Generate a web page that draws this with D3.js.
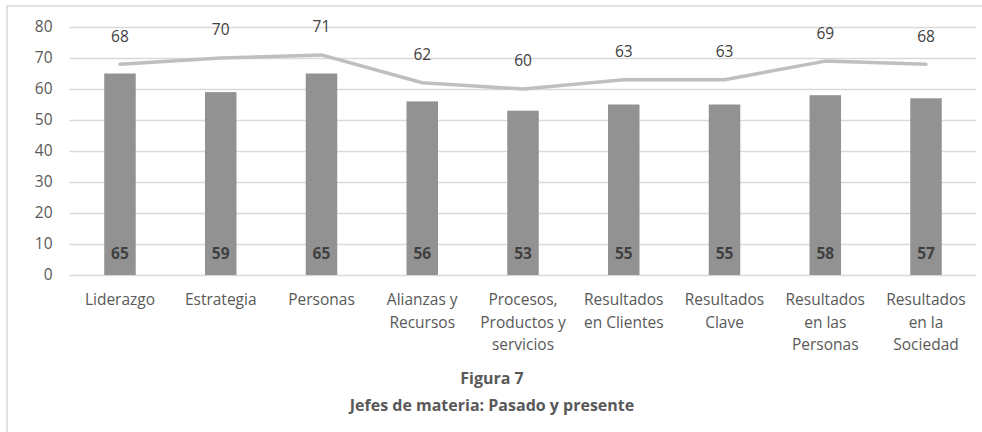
<!DOCTYPE html>
<html><head><meta charset="utf-8">
<script src="https://cdn.jsdelivr.net/npm/d3@7"></script>
<style>body{margin:0;background:#fff;} svg{display:block;font-family:"Open Sans",sans-serif;}</style>
</head><body>
<svg id="c" width="982" height="432"></svg>
<script>
const categories = [["Liderazgo"],["Estrategia"],["Personas"],["Alianzas y","Recursos"],["Procesos,","Productos y","servicios"],["Resultados","en Clientes"],["Resultados","Clave"],["Resultados","en las","Personas"],["Resultados","en la","Sociedad"]];
const presente = [65,59,65,56,53,55,55,58,57];
const pasado = [68,70,71,62,60,63,63,69,68];
const yTicks = [0,10,20,30,40,50,60,70,80];
const title1 = "Figura 7";
const title2 = "Jefes de materia: Pasado y presente";

(function(){
const svg = d3.select("#c");
const fs = "15.5px";
svg.append("rect").attr("x",7).attr("y",6).attr("width",990).attr("height",440)
  .attr("fill","#fff").attr("stroke","#d9d9d9").attr("stroke-width",1.5);

const pl=69.6,pr=976.4,pt=27,pb=275;
const idx = d3.range(categories.length);
const x = d3.scaleBand().domain(idx).range([pl,pr]).paddingInner(0).paddingOuter(0);
const y = d3.scaleLinear().domain([0,80]).range([pb,pt]);

const ga = svg.append("g").attr("transform",`translate(${pl},0)`)
  .call(d3.axisLeft(y).tickValues(yTicks).tickSize(-(pr-pl)).tickPadding(17));
ga.select(".domain").remove();
ga.selectAll(".tick line").attr("stroke","#d9d9d9").attr("stroke-width",1.5);
ga.selectAll(".tick text").attr("fill","#595959").style("font-size",fs).style("font-family","Open Sans");

const bw = 31.5;
svg.append("g").selectAll("rect").data(presente).join("rect")
  .attr("x",(d,i)=>x(i)+x.bandwidth()/2-bw/2).attr("width",bw)
  .attr("y",d=>y(d)).attr("height",d=>pb-y(d)).attr("fill","#929292");

svg.append("g").selectAll("text").data(presente).join("text")
  .attr("x",(d,i)=>x(i)+x.bandwidth()/2).attr("y",pb-21)
  .attr("dy","0.35em").attr("text-anchor","middle")
  .attr("fill","#404040").style("font-weight","bold").style("font-size",fs).text(d=>d);

const line = d3.line().x((d,i)=>x(i)+x.bandwidth()/2).y(d=>y(d));
svg.append("path").datum(pasado).attr("d",line).attr("fill","none")
  .attr("stroke","#bfbfbf").attr("stroke-width",3.5).attr("stroke-linejoin","round").attr("stroke-linecap","round");

svg.append("g").selectAll("text").data(pasado).join("text")
  .attr("x",(d,i)=>x(i)+x.bandwidth()/2).attr("y",d=>y(d)-28)
  .attr("dy","0.35em").attr("text-anchor","middle")
  .attr("fill","#404040").style("font-size",fs).text(d=>d);

const gx = svg.append("g");
categories.forEach((lines,i)=>{
  const t = gx.append("text").attr("text-anchor","middle").attr("fill","#595959").style("font-size",fs);
  lines.forEach((l,j)=>{
    t.append("tspan").attr("x",x(i)+x.bandwidth()/2).attr("y",300+j*22.5).attr("dy","0.35em").text(l);
  });
});

svg.append("text").attr("x",492).attr("y",378).attr("dy","0.35em").attr("text-anchor","middle")
  .attr("fill","#595959").style("font-weight","bold").style("font-size","16px").text(title1);
svg.append("text").attr("x",492).attr("y",405).attr("dy","0.35em").attr("text-anchor","middle")
  .attr("fill","#595959").style("font-weight","bold").style("font-size","16px").text(title2);
})();
</script>
</body></html>
